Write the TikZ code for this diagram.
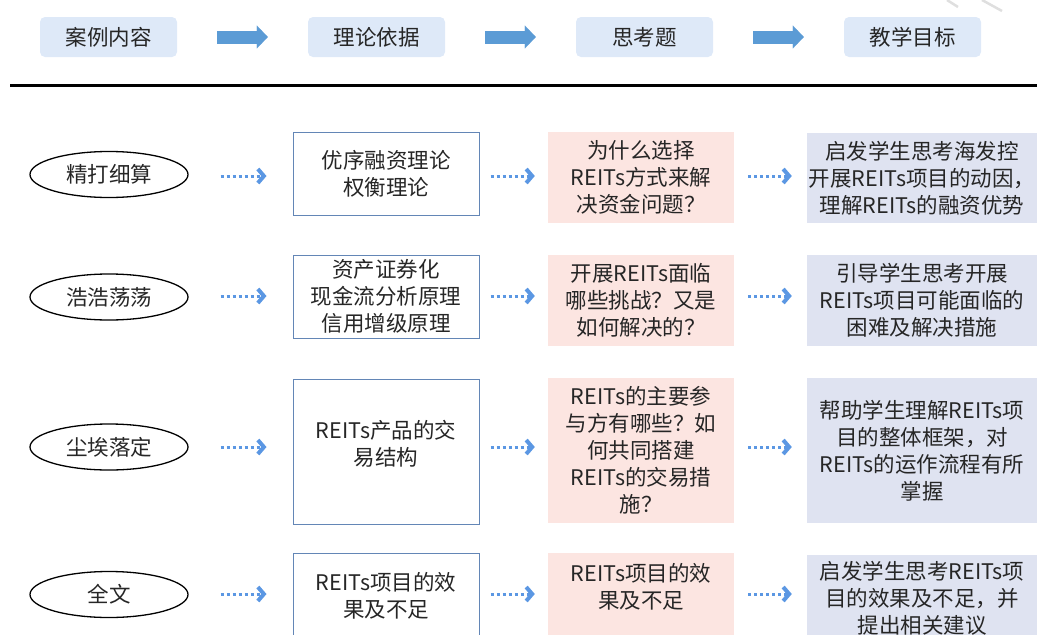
\documentclass[tikz,border=0pt]{standalone}
\usepackage{fontspec}
\setmainfont{Noto Sans CJK SC}
\usetikzlibrary{shapes.geometric,arrows.meta,calc}
\definecolor{hdrfill}{HTML}{DEE9F8}
\definecolor{arrowfill}{HTML}{5B9BD5}
\definecolor{dotblue}{HTML}{5B97E3}
\definecolor{boxline}{HTML}{6386B6}
\definecolor{pinkfill}{HTML}{FCE5E1}
\definecolor{lavfill}{HTML}{DFE3F1}
\definecolor{textc}{HTML}{262626}
\begin{document}
\begin{tikzpicture}[x=1pt,y=-1pt,
  txt/.style={font=\fontsize{21.5pt}{27pt}\selectfont, text=textc, align=center},
  hdr/.style={txt, fill=hdrfill, rounded corners=5pt, minimum width=137pt, minimum height=40pt, inner sep=0pt},
  oval/.style={txt, ellipse, draw=black, line width=1.3pt, minimum width=158pt, minimum height=46pt, inner sep=0pt},
  theorybox/.style={txt, draw=boxline, line width=1pt, fill=white, minimum width=186pt, inner sep=0pt},
  pinkbox/.style={txt, fill=pinkfill, minimum width=186pt, inner sep=0pt},
  lavbox/.style={txt, fill=lavfill, minimum width=230pt, inner sep=0pt},
  blockarrow/.style={draw=arrowfill, line width=13pt, -{Triangle[length=11pt,width=23pt,line width=0.1pt]}, shorten <=40pt, shorten >=40pt},
  dotarrow/.style={draw=dotblue, line width=3pt, dash pattern=on 3pt off 3pt, -{Straight Barb[length=6pt,width=14pt,line width=4pt]}}
]
\useasboundingbox (0,0) rectangle (1037,635);
\clip (0,0) rectangle (1037,635);

% faint watermark fragment
\draw[gray!25, line width=2.5pt] (947,0) -- (958,7);
\draw[gray!25, line width=2.5pt] (982,0) -- (1002,11);

% header
\node[hdr] (h1) at (108.5,37) {案例内容};
\node[hdr] (h2) at (376.5,37) {理论依据};
\node[hdr] (h3) at (644.5,37) {思考题};
\node[hdr] (h4) at (912.5,37) {教学目标};
\draw[blockarrow] (h1.east) -- (h2.west);
\draw[blockarrow] (h2.east) -- (h3.west);
\draw[blockarrow] (h3.east) -- (h4.west);

% separator
\draw[line width=3pt, black] (10,85) -- (1037,85);

% row 1
\node[oval] (e1) at (109,174.5) {精打细算};
\node[theorybox, minimum height=83pt] (b1) at (386,173.5) {优序融资理论\\权衡理论};
\node[pinkbox, minimum height=91pt] (p1) at (641,177.5) {为什么选择\\REITs方式来解\\决资金问题？};
\node[lavbox, minimum height=90pt] (l1) at (922,178) {启发学生思考海发控\\开展REITs项目的动因，\\理解REITs的融资优势};

% row 2
\node[oval] (e2) at (109,297) {浩浩荡荡};
\node[theorybox, minimum height=83pt] (b2) at (386,296.5) {资产证券化\\现金流分析原理\\信用增级原理};
\node[pinkbox, minimum height=91pt] (p2) at (641,300.5) {开展REITs面临\\哪些挑战？又是\\如何解决的？};
\node[lavbox, minimum height=91pt] (l2) at (922,300.5) {引导学生思考开展\\REITs项目可能面临的\\困难及解决措施};

% row 3
\node[oval] (e3) at (109,447) {尘埃落定};
\node[theorybox, minimum height=145pt] (b3) at (386,451.5) {};
\node[txt] (b3t) at ($(b3.center)+(0,-8)$) {REITs产品的交\\易结构};
\node[pinkbox, minimum height=145pt] (p3) at (641,450.5) {REITs的主要参\\与方有哪些？如\\何共同搭建\\REITs的交易措\\施？};
\node[lavbox, minimum height=145pt] (l3) at (922,450.5) {帮助学生理解REITs项\\目的整体框架，对\\REITs的运作流程有所\\掌握};

% row 4
\node[oval] (e4) at (109,594.5) {全文};
\node[theorybox, minimum height=86pt] (b4) at (386,596) {REITs项目的效\\果及不足};
\node[pinkbox, minimum height=90pt] (p4) at (641,598) {};
\node[txt] (p4t) at (641,586.5) {REITs项目的效\\果及不足};
\node[lavbox, minimum height=86pt] (l4) at (922,598) {启发学生思考REITs项\\目的效果及不足，并\\提出相关建议};

% dotted connectors
\foreach \r/\yy in {1/176,2/296,3/447,4/594}{
  \draw[dotarrow, shorten <=32pt, shorten >=26pt] (e\r.east |- 0,\yy) -- (b\r.west |- 0,\yy);
  \draw[dotarrow, shorten <=11pt, shorten >=13pt] (b\r.east |- 0,\yy) -- (p\r.west |- 0,\yy);
  \draw[dotarrow, shorten <=14pt, shorten >=15pt] (p\r.east |- 0,\yy) -- (l\r.west |- 0,\yy);
}
\end{tikzpicture}
\end{document}
